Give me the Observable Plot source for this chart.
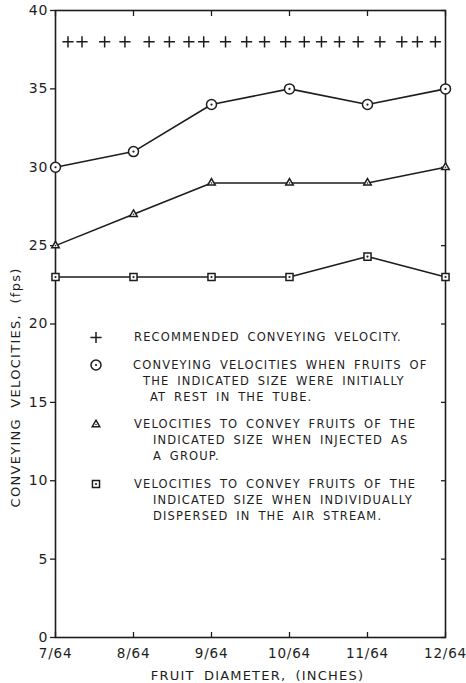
<!DOCTYPE html>
<html><head>
<meta charset="utf-8">
<script src="https://cdn.jsdelivr.net/npm/d3@7"></script>
<script src="https://cdn.jsdelivr.net/npm/@observablehq/plot@0.6"></script>
<style>
body{margin:0;background:#fff}
#chart svg{font-family:"DejaVu Sans",sans-serif;}
</style>
</head><body><div id="chart"></div>
<script>
// ---- data ----
const diameters = [7, 8, 9, 10, 11, 12];            // in 64ths of an inch
const diameterLabels = ["7/64", "8/64", "9/64", "10/64", "11/64", "12/64"];
const velocityTicks = [0, 5, 10, 15, 20, 25, 30, 35, 40];
const restVelocity = [30, 31, 34, 35, 34, 35];       // circles
const groupVelocity = [25, 27, 29, 29, 29, 30];      // triangles
const dispersedVelocity = [23, 23, 23, 23, 24.3, 23]; // squares
const recommendedDiam = [7.16, 7.34, 7.63, 7.89, 8.2, 8.46, 8.71, 8.9, 9.18, 9.45,
                         9.68, 9.95, 10.19, 10.41, 10.64, 10.88, 11.16, 11.44, 11.64, 11.87];
const recommendedVelocity = 38;
const xTitle = "FRUIT DIAMETER, (INCHES)";
const yTitle = "CONVEYING VELOCITIES, (fps)";
const legendSymbols = ["plus", "circle", "triangle", "square"];
const legendTexts = [
  ["RECOMMENDED CONVEYING VELOCITY."],
  ["CONVEYING VELOCITIES WHEN FRUITS OF", "THE INDICATED SIZE WERE INITIALLY", "AT REST IN THE TUBE."],
  ["VELOCITIES TO CONVEY FRUITS OF THE", "INDICATED SIZE WHEN INJECTED AS", "A GROUP."],
  ["VELOCITIES TO CONVEY FRUITS OF THE", "INDICATED SIZE WHEN INDIVIDUALLY", "DISPERSED IN THE AIR STREAM."]
];

// ---- build ----
const ink = "#1d1d1d";
const rows = (vals) => diameters.map((d, i) => ({d, v: vals[i]}));
const rest = rows(restVelocity), group = rows(groupVelocity), disp = rows(dispersedVelocity);
const rec = recommendedDiam.map(d => ({d, v: recommendedVelocity}));

const symR = {plus: 3.7, circle: 5, triangle: 2.8, square: 4};
const textStyle = {fontSize: 11.5, fill: ink};

// legend layout
const legendMarks = [];
let ly = 327;
const indents = [[78.5], [77.5, 87.5, 94.5], [78.5, 97.5, 97.5], [78.5, 97.5, 97.5]];
legendTexts.forEach((lines, k) => {
  const sym = legendSymbols[k];
  legendMarks.push(Plot.dot([0], {frameAnchor: "top-left", dx: 40.5, dy: ly, symbol: sym, r: symR[sym],
    stroke: ink, strokeWidth: 1.5, fill: sym === "plus" ? "none" : "white"}));
  if (sym !== "plus") legendMarks.push(Plot.dot([0], {frameAnchor: "top-left", dx: 40.5, dy: ly, r: sym === "triangle" ? 0.8 : 1.1, fill: ink}));
  lines.forEach((t, j) => {
    legendMarks.push(Plot.text([t], {frameAnchor: "top-left", dx: indents[k][j], dy: ly + j * 16,
      textAnchor: "start", lineAnchor: "middle", ...textStyle}));
  });
  ly += lines.length * 16 + 11.5;
});

const series = [[rest, "circle"], [group, "triangle"], [disp, "square"]];

const chart = Plot.plot({
  width: 466, height: 683,
  marginLeft: 55, marginRight: 21, marginTop: 10, marginBottom: 46,
  style: {fontFamily: "DejaVu Sans, sans-serif", color: ink, background: "white"},
  x: {domain: [7, 12]},
  y: {domain: [0, 40]},
  marks: [
    Plot.axisY({anchor: "left", ticks: velocityTicks, tickSize: 5, tickPadding: 2, fontSize: 14, label: null, stroke: ink, strokeWidth: 1.3}),
    Plot.axisY({anchor: "right", ticks: velocityTicks, tickSize: -5, tickFormat: () => "", label: null, stroke: ink, strokeWidth: 1.3}),
    Plot.axisX({anchor: "bottom", ticks: diameters, tickSize: -5, tickFormat: () => "", label: null, stroke: ink, strokeWidth: 1.3}),
    Plot.axisX({anchor: "top", ticks: diameters, tickSize: -5, tickFormat: () => "", label: null, stroke: ink, strokeWidth: 1.3}),
    Plot.axisX({anchor: "bottom", ticks: diameters, tickSize: 0, tickPadding: 11, fontSize: 13.5,
      tickFormat: (d) => diameterLabels[diameters.indexOf(d)], label: null}),
    Plot.frame({stroke: ink, strokeWidth: 1.6}),
    Plot.text([xTitle], {frameAnchor: "bottom", dy: 38, dx: 7, lineAnchor: "middle", fontSize: 13, fill: ink}),
    Plot.text([yTitle], {frameAnchor: "bottom-left", dx: -40, dy: -130, rotate: -90, textAnchor: "start", lineAnchor: "middle", fontSize: 13, fill: ink}),
    ...series.map(([data]) => Plot.line(data, {x: "d", y: "v", stroke: ink, strokeWidth: 1.6})),
    ...series.map(([data, sym]) => Plot.dot(data, {x: "d", y: "v", symbol: sym, r: symR[sym], stroke: ink, strokeWidth: 1.5, fill: "white"})),
    ...series.map(([data, sym]) => Plot.dot(data, {x: "d", y: "v", r: sym === "triangle" ? 0.8 : 1.1, fill: ink})),
    Plot.dot(rec, {x: "d", y: "v", symbol: "plus", r: symR.plus, stroke: ink, strokeWidth: 1.5}),
    ...legendMarks
  ]
});
// letter spacing to mimic the wide lettering-guide style
const legendSet = new Set(legendTexts.flat());
d3.select(chart).selectAll("text").each(function () {
  const t = this.textContent, s = d3.select(this);
  if (legendSet.has(t)) s.style("letter-spacing", "1.15px").style("word-spacing", "3px");
  else if (t === xTitle) s.style("letter-spacing", "1.2px").style("word-spacing", "4px");
  else if (t === yTitle) s.style("letter-spacing", "1.3px").style("word-spacing", "5px");
  else if (diameterLabels.includes(t)) s.style("letter-spacing", "0.8px");
  else s.style("letter-spacing", "1px");
});
document.getElementById("chart").appendChild(chart);
</script>
</body></html>
